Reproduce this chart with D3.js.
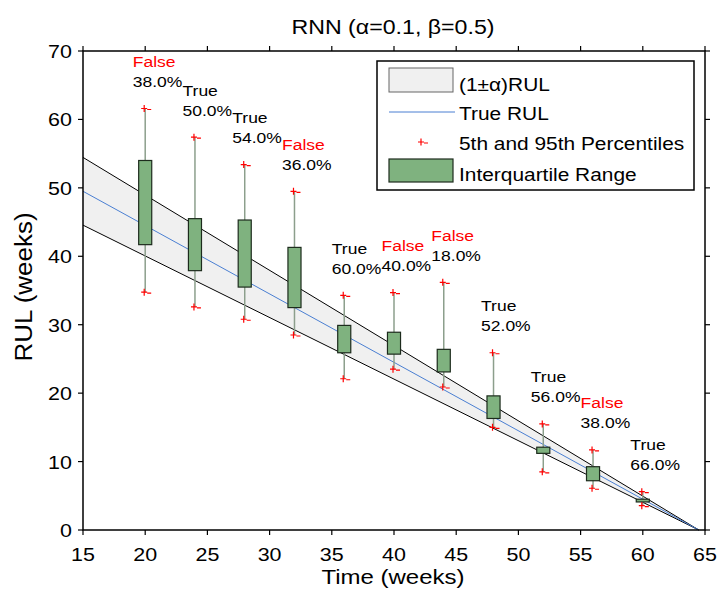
<!DOCTYPE html>
<html>
<head>
<meta charset="utf-8">
<script src="https://cdn.jsdelivr.net/npm/d3@7"></script>
<style>
  body { margin: 0; background: #fff; }
  text { font-family: "Liberation Sans", Arial, sans-serif; }
</style>
</head>
<body>
<div id="chart"><svg width="718" height="596"></svg></div>
<script>
// data
const times = [20, 24, 28, 32, 36, 40, 44, 48, 52, 56, 60];
const q3 = [54.0, 45.5, 45.3, 41.3, 29.9, 28.9, 26.4, 19.6, 12.1, 9.25, 4.5];
const q1 = [41.7, 37.9, 35.5, 32.5, 25.9, 25.7, 23.1, 16.3, 11.2, 7.2, 4.1];
const p95 = [61.6, 57.4, 53.4, 49.5, 34.3, 34.7, 36.2, 25.9, 15.5, 11.7, 5.6];
const p5 = [34.75, 32.6, 30.8, 28.5, 22.1, 23.5, 20.9, 15.0, 8.5, 6.1, 3.55];
const verdicts = ["False", "True", "True", "False", "True", "False", "False", "True", "True", "False", "True"];
const percents = ["38.0%", "50.0%", "54.0%", "36.0%", "60.0%", "40.0%", "18.0%", "52.0%", "56.0%", "38.0%", "66.0%"];

const lineTimes = [15, 64.5];
const trueRul = [49.5, 0];
const bandUpper = [54.45, 0];
const bandLower = [44.55, 0];

const xTicks = [15, 20, 25, 30, 35, 40, 45, 50, 55, 60, 65];
const yTicks = [0, 10, 20, 30, 40, 50, 60, 70];
const legendLabels = ["(1\u00b1\u03b1)RUL", "True RUL", "5th and 95th Percentiles", "Interquartile Range"];

const SX = 1.13; // text in the source is a bit wide
const BOX_W = 1.05; // weeks

const svg = d3.select("#chart svg");
const x = d3.scaleLinear().domain([15, 65]).range([83, 705]);
const y = d3.scaleLinear().domain([0, 70]).range([530, 51]);

function label(parent, px, py, str, size, anchor, fill, sx) {
    const g = parent.append("g").attr("transform", `translate(${px},${py}) scale(${sx || SX},1)`);
    g.append("text")
        .attr("font-size", size)
        .attr("text-anchor", anchor || "start")
        .attr("fill", fill || "#000")
        .text(str);
    return g;
}

// band (1 +/- alpha) RUL
const bandPts = lineTimes.map((t, i) => [x(t), y(bandUpper[i])])
    .concat(lineTimes.map((t, i) => [x(t), y(bandLower[i])]).reverse());
svg.append("path")
    .attr("d", d3.line()(bandPts) + "Z")
    .attr("fill", "#f0f0f0");

const line = d3.line().x(d => x(d[0])).y(d => y(d[1]));
svg.append("path").attr("d", line(lineTimes.map((t, i) => [t, bandUpper[i]])))
    .attr("stroke", "#000").attr("fill", "none").attr("stroke-width", 1);
svg.append("path").attr("d", line(lineTimes.map((t, i) => [t, bandLower[i]])))
    .attr("stroke", "#000").attr("fill", "none").attr("stroke-width", 1);
svg.append("path").attr("d", line(lineTimes.map((t, i) => [t, trueRul[i]])))
    .attr("stroke", "#4a7fd2").attr("fill", "none").attr("stroke-width", 1);

// whiskers, boxes, percentile markers
const marks = svg.append("g");
times.forEach((t, i) => {
    const cx = x(t);
    marks.append("line")
        .attr("x1", cx).attr("x2", cx)
        .attr("y1", y(p5[i])).attr("y2", y(p95[i]))
        .attr("stroke", "#8c9f8c").attr("stroke-width", 1.5);
    marks.append("rect")
        .attr("x", x(t - BOX_W / 2))
        .attr("width", x(t + BOX_W / 2) - x(t - BOX_W / 2))
        .attr("y", y(q3[i]))
        .attr("height", Math.max(y(q1[i]) - y(q3[i]), 1.5))
        .attr("fill", "#7fb27f").attr("stroke", "#1d2b1d").attr("stroke-width", 1.2);
});

function marker(parent, cx, cy) {
    parent.append("path")
        .attr("d", `M${cx - 4},${cy}H${cx + 2}M${cx - 1},${cy - 3.5}V${cy + 3.5}M${cx + 2},${cy + 1}H${cx + 6}`)
        .attr("stroke", "#ff0000").attr("stroke-width", 1.2).attr("fill", "none");
}
times.forEach((t, i) => {
    marker(marks, x(t), y(p95[i]));
    marker(marks, x(t), y(p5[i]));
});

// annotations
times.forEach((t, i) => {
    const base = y(p95[i]) - 21.5;
    label(svg, x(t - 1), base - 20, verdicts[i], 15.5, "start", verdicts[i] === "False" ? "#ff0000" : "#000");
    label(svg, x(t - 1), base, percents[i], 15.5, "start", "#000");
});

// axes frame
svg.append("rect")
    .attr("x", x(15)).attr("y", y(70))
    .attr("width", x(65) - x(15)).attr("height", y(0) - y(70))
    .attr("fill", "none").attr("stroke", "#000").attr("stroke-width", 1.5);

const ticks = svg.append("g").attr("stroke", "#000").attr("stroke-width", 1.2);
xTicks.forEach(v => {
    ticks.append("line").attr("x1", x(v)).attr("x2", x(v)).attr("y1", y(0)).attr("y2", y(0) + 5);
    ticks.append("line").attr("x1", x(v)).attr("x2", x(v)).attr("y1", y(70)).attr("y2", y(70) - 5);
    label(svg, x(v), 560.5, v, 19, "middle");
});
yTicks.forEach(v => {
    ticks.append("line").attr("x1", x(15)).attr("x2", x(15) - 5).attr("y1", y(v)).attr("y2", y(v));
    ticks.append("line").attr("x1", x(65)).attr("x2", x(65) + 5).attr("y1", y(v)).attr("y2", y(v));
    label(svg, 72, y(v) + 7, v, 19, "end");
});

// titles
label(svg, 393, 34, "RNN (\u03b1=0.1, \u03b2=0.5)", 20.5, "middle");
label(svg, 393, 584, "Time (weeks)", 20, "middle", "#000", 1.2);
svg.append("g").attr("transform", "translate(32,287) rotate(-90) scale(1.13,1)")
    .append("text").attr("font-size", 23).attr("text-anchor", "middle").text("RUL (weeks)");

// legend
const lg = svg.append("g");
lg.append("rect").attr("x", 377).attr("y", 61).attr("width", 317).attr("height", 129)
    .attr("fill", "#fff").attr("stroke", "#000").attr("stroke-width", 1.5);
lg.append("rect").attr("x", 389).attr("y", 68).attr("width", 64).attr("height", 24)
    .attr("fill", "#f0f0f0").attr("stroke", "#666").attr("stroke-width", 1);
lg.append("line").attr("x1", 389).attr("x2", 455).attr("y1", 112).attr("y2", 112)
    .attr("stroke", "#4a7fd2").attr("stroke-width", 1);
marker(lg, 422, 142);
lg.append("rect").attr("x", 389).attr("y", 159).attr("width", 64).attr("height", 23)
    .attr("fill", "#7fb27f").attr("stroke", "#1d2b1d").attr("stroke-width", 1.2);
[91, 120, 150, 181].forEach((by, i) => label(lg, 459, by, legendLabels[i], 18.5, "start"));
</script>
</body>
</html>
